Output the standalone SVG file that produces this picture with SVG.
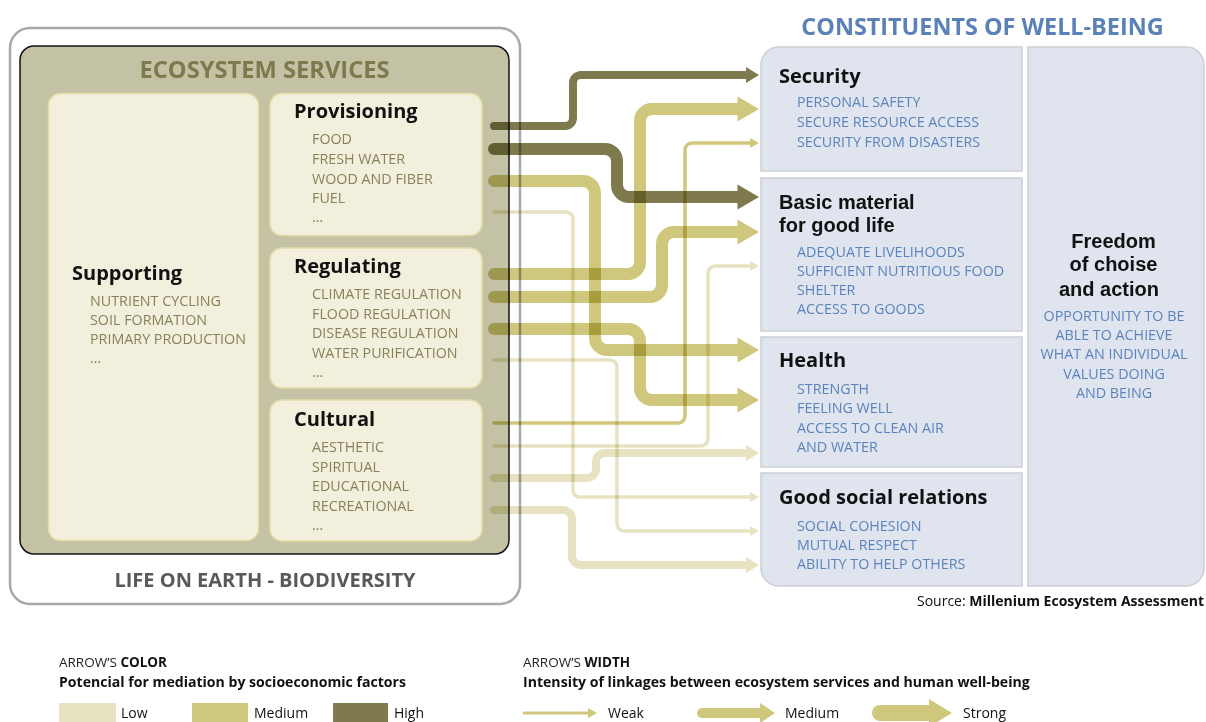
<svg xmlns="http://www.w3.org/2000/svg" width="1206" height="722" viewBox="0 0 1206 722">
<style>
text{font-family:'Open Sans','Liberation Sans',sans-serif}
.h{font-weight:700;font-size:20px;fill:#111}
.h2{font-family:'Liberation Sans',Arial,sans-serif;font-weight:700;font-size:20px;fill:#111}
.li{font-size:14.3px;fill:#86835b}
.ri{font-size:14.3px;fill:#5b84bd}
.cream{fill:#f2efdc;stroke:#e3dda3;stroke-width:1.5}
.blue{fill:#dfe4ee;stroke:#cbced5;stroke-width:1.5}
.a{fill:none;stroke-linecap:round;mix-blend-mode:multiply}
.s{stroke-width:12}
.m{stroke-width:8}
.w{stroke-width:3.5}
.dk{stroke:#7e7a4e}
.md{stroke:#cfc87c}
.lo{stroke:#e7e3c2}
.lg{font-size:14px;fill:#111}
.lh{font-size:13.5px;fill:#222}
.lb{font-size:14.1px;font-weight:700;fill:#111}
</style>
<defs>
<marker id="hs-dk" markerUnits="userSpaceOnUse" markerWidth="22" markerHeight="25" refX="0" refY="12.5" orient="auto" overflow="visible"><path d="M0,0L21.5,12.5L0,25Z" fill="#7e7a4e"/></marker>
<marker id="hs-md" markerUnits="userSpaceOnUse" markerWidth="22" markerHeight="25" refX="0" refY="12.5" orient="auto" overflow="visible"><path d="M0,0L21.5,12.5L0,25Z" fill="#cfc87c"/></marker>
<marker id="hm-dk" markerUnits="userSpaceOnUse" markerWidth="13" markerHeight="16" refX="0" refY="8" orient="auto" overflow="visible"><path d="M0,0L13,8L0,16Z" fill="#7e7a4e"/></marker>
<marker id="hm-lo" markerUnits="userSpaceOnUse" markerWidth="13" markerHeight="16" refX="0" refY="8" orient="auto" overflow="visible"><path d="M0,0L13,8L0,16Z" fill="#e7e3c2"/></marker>
<marker id="hw-md" markerUnits="userSpaceOnUse" markerWidth="9" markerHeight="10" refX="0" refY="5" orient="auto" overflow="visible"><path d="M0,0L9,5L0,10Z" fill="#cfc87c"/></marker>
<marker id="hw-lo" markerUnits="userSpaceOnUse" markerWidth="9" markerHeight="10" refX="0" refY="5" orient="auto" overflow="visible"><path d="M0,0L9,5L0,10Z" fill="#e7e3c2"/></marker>
<marker id="hl-m" markerUnits="userSpaceOnUse" markerWidth="15" markerHeight="20" refX="0" refY="10" orient="auto" overflow="visible"><path d="M0,0L15,10L0,20Z" fill="#cfc87c"/></marker>
<marker id="hl-s" markerUnits="userSpaceOnUse" markerWidth="23" markerHeight="28" refX="0" refY="14" orient="auto" overflow="visible"><path d="M0,0L23,14L0,28Z" fill="#cfc87c"/></marker>
</defs>

<g id="life-on-earth">
<rect x="10" y="28" width="510" height="576" rx="20" fill="#fff" stroke="#a8a9ab" stroke-width="2.5"/>
<text x="265" y="587" text-anchor="middle" font-size="20" font-weight="700" fill="#58595b">LIFE ON EARTH - BIODIVERSITY</text>
</g>
<g id="ecosystem-services">
<rect x="20" y="46" width="489" height="508" rx="14" fill="#c4c2a4" stroke="#111" stroke-width="1.5"/>
<text x="264.5" y="78" text-anchor="middle" font-size="23.7" font-weight="700" fill="#7d7a4e">ECOSYSTEM SERVICES</text>
</g>
<g id="supporting">
<rect class="cream" x="48.5" y="93.5" width="210" height="447" rx="12"/>
<text class="h" x="72" y="280">Supporting</text>
<text class="li" x="90" y="305.5">NUTRIENT CYCLING</text>
<text class="li" x="90" y="325">SOIL FORMATION</text>
<text class="li" x="90" y="344">PRIMARY PRODUCTION</text>
<text class="li" x="90" y="363">…</text>
</g>
<g id="provisioning">
<rect class="cream" x="270" y="93.5" width="212" height="142" rx="12"/>
<text class="h" x="294" y="118">Provisioning</text>
<text class="li" x="312" y="144">FOOD</text>
<text class="li" x="312" y="164">FRESH WATER</text>
<text class="li" x="312" y="183.5">WOOD AND FIBER</text>
<text class="li" x="312" y="203">FUEL</text>
<text class="li" x="312" y="222">…</text>
</g>
<g id="regulating">
<rect class="cream" x="270" y="248" width="212" height="140" rx="12"/>
<text class="h" x="294" y="273">Regulating</text>
<text class="li" x="312" y="299">CLIMATE REGULATION</text>
<text class="li" x="312" y="318.5">FLOOD REGULATION</text>
<text class="li" x="312" y="338">DISEASE REGULATION</text>
<text class="li" x="312" y="357.5">WATER PURIFICATION</text>
<text class="li" x="312" y="377">…</text>
</g>
<g id="cultural">
<rect class="cream" x="270" y="400" width="212" height="141" rx="12"/>
<text class="h" x="294" y="426">Cultural</text>
<text class="li" x="312" y="452">AESTHETIC</text>
<text class="li" x="312" y="471.5">SPIRITUAL</text>
<text class="li" x="312" y="491">EDUCATIONAL</text>
<text class="li" x="312" y="510.5">RECREATIONAL</text>
<text class="li" x="312" y="530">…</text>
</g>

<text x="982.5" y="35" text-anchor="middle" font-size="23.4" font-weight="700" fill="#5a82b8">CONSTITUENTS OF WELL-BEING</text>
<g id="security">
<path class="blue" d="M761,171V65A18,18 0 0 1 779,47H1022V171Z"/>
<text class="h" x="779" y="82.5">Security</text>
<text class="ri" x="797" y="107">PERSONAL SAFETY</text>
<text class="ri" x="797" y="126.5">SECURE RESOURCE ACCESS</text>
<text class="ri" x="797" y="146.5">SECURITY FROM DISASTERS</text>
</g>
<g id="basic-material">
<rect class="blue" x="761" y="178" width="261" height="153"/>
<text class="h2"><tspan x="779" y="209">Basic material</tspan><tspan x="779" y="231.5">for good life</tspan></text>
<text class="ri" x="797" y="256.5">ADEQUATE LIVELIHOODS</text>
<text class="ri" x="797" y="275.5">SUFFICIENT NUTRITIOUS FOOD</text>
<text class="ri" x="797" y="295">SHELTER</text>
<text class="ri" x="797" y="314">ACCESS TO GOODS</text>
</g>
<g id="health">
<rect class="blue" x="761" y="337" width="261" height="130"/>
<text class="h" x="779" y="367">Health</text>
<text class="ri" x="797" y="394">STRENGTH</text>
<text class="ri" x="797" y="413">FEELING WELL</text>
<text class="ri" x="797" y="432.5">ACCESS TO CLEAN AIR</text>
<text class="ri" x="797" y="451.5">AND WATER</text>
</g>
<g id="social-relations">
<path class="blue" d="M761,473H1022V586H779A18,18 0 0 1 761,568Z"/>
<text class="h" x="779" y="504">Good social relations</text>
<text class="ri" x="797" y="531">SOCIAL COHESION</text>
<text class="ri" x="797" y="550">MUTUAL RESPECT</text>
<text class="ri" x="797" y="569">ABILITY TO HELP OTHERS</text>
</g>
<g id="freedom">
<path class="blue" d="M1028,47H1186A18,18 0 0 1 1204,65V568A18,18 0 0 1 1186,586H1028Z"/>
<text class="h2" font-size="20.5" text-anchor="middle"><tspan x="1113.5" y="248">Freedom</tspan><tspan x="1113.5" y="271">of choise</tspan><tspan x="1109" y="295.5">and action</tspan></text>
<text class="ri" x="1114" y="321" text-anchor="middle">OPPORTUNITY TO BE</text>
<text class="ri" x="1114" y="340" text-anchor="middle">ABLE TO ACHIEVE</text>
<text class="ri" x="1114" y="359.3" text-anchor="middle">WHAT AN INDIVIDUAL</text>
<text class="ri" x="1114" y="378.5" text-anchor="middle">VALUES DOING</text>
<text class="ri" x="1114" y="397.5" text-anchor="middle">AND BEING</text>
</g>
<text x="1204" y="606" text-anchor="end" font-size="14" fill="#111">Source: <tspan font-weight="700">Millenium Ecosystem Assessment</tspan></text>

<g id="connectors">
<path class="a m dk" marker-end="url(#hm-dk)" d="M494,126H565A8,8 0 0 0 573,118V83A8,8 0 0 1 581,75H746"/>
<path class="a s dk" marker-end="url(#hs-dk)" d="M494,149H605A12,12 0 0 1 617,161V185A12,12 0 0 0 629,197H737.5"/>
<path class="a s md" marker-end="url(#hs-md)" d="M494,181H583A12,12 0 0 1 595,193V338A12,12 0 0 0 607,350H737.5"/>
<path class="a w lo" marker-end="url(#hw-lo)" d="M494,212H566A7,7 0 0 1 573,219V490A7,7 0 0 0 580,497H750"/>
<path class="a s md" marker-end="url(#hs-md)" d="M494,274H628A12,12 0 0 0 640,262V121A12,12 0 0 1 652,109H737.5"/>
<path class="a s md" marker-end="url(#hs-md)" d="M494,297H650A12,12 0 0 0 662,285V244A12,12 0 0 1 674,232H737.5"/>
<path class="a s md" marker-end="url(#hs-md)" d="M494,329H628A12,12 0 0 1 640,341V388A12,12 0 0 0 652,400H737.5"/>
<path class="a w lo" marker-end="url(#hw-lo)" d="M494,360H610A7,7 0 0 1 617,367V524A7,7 0 0 0 624,531H750"/>
<path class="a w md" marker-end="url(#hw-md)" d="M494,423H678A7,7 0 0 0 685,416V150A7,7 0 0 1 692,143H750"/>
<path class="a w lo" marker-end="url(#hw-lo)" d="M494,446H701A7,7 0 0 0 708,439V273A7,7 0 0 1 715,266H750"/>
<path class="a m lo" marker-end="url(#hm-lo)" d="M494,478H587A9,9 0 0 0 596,469V462A9,9 0 0 1 605,453H746"/>
<path class="a m lo" marker-end="url(#hm-lo)" d="M494,510H563A9,9 0 0 1 572,519V556A9,9 0 0 0 581,565H746"/>
</g>

<g id="legend-color">
<text class="lh" x="59" y="667">ARROW’S <tspan font-weight="700" fill="#111">COLOR</tspan></text>
<text class="lb" x="59" y="687">Potencial for mediation by socioeconomic factors</text>
<rect x="59" y="703" width="57" height="19" fill="#e7e3c2"/>
<text class="lg" x="121" y="718">Low</text>
<rect x="192" y="703" width="56" height="19" fill="#cfc87c"/>
<text class="lg" x="254" y="718">Medium</text>
<rect x="333" y="703" width="55" height="19" fill="#7e7a4e"/>
<text class="lg" x="394" y="718">High</text>
</g>
<g id="legend-width">
<text class="lh" x="523" y="667">ARROW’S <tspan font-weight="700" fill="#111">WIDTH</tspan></text>
<text class="lb" x="523" y="687">Intensity of linkages between ecosystem services  and human well-being</text>
<path class="a md" stroke-width="3" marker-end="url(#hw-md)" d="M524,713H588"/>
<text class="lg" x="608" y="718">Weak</text>
<path class="a md" stroke-width="10" marker-end="url(#hl-m)" d="M702,713H760"/>
<text class="lg" x="785" y="718">Medium</text>
<path class="a md" stroke-width="16" marker-end="url(#hl-s)" d="M880,713H929"/>
<text class="lg" x="963" y="718">Strong</text>
</g>
</svg>
